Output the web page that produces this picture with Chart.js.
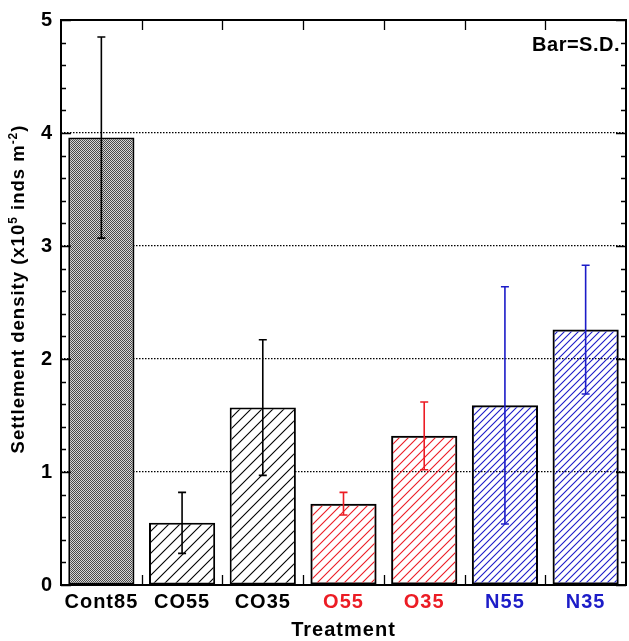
<!DOCTYPE html>
<html>
<head>
<meta charset="utf-8">
<script src="https://cdn.jsdelivr.net/npm/chart.js@4/dist/chart.umd.min.js"></script>
<style>
  html, body { margin: 0; padding: 0; background: #fff; }
  #wrap { width: 629px; height: 641px; }
</style>
</head>
<body>
<div id="wrap"><canvas id="grafica" width="629" height="641"></canvas></div>
<script>
// datos
var categorias = ['Cont85', 'CO55', 'CO35', 'O55', 'O35', 'N55', 'N35'];
var medias = [3.96, 0.55, 1.57, 0.72, 1.32, 1.59, 2.26];
var desvios = [0.89, 0.27, 0.60, 0.10, 0.30, 1.05, 0.57];
var ticksY = [0, 1, 2, 3, 4, 5];

// estilos
var fuente = '"Liberation Sans", Arial, Helvetica, sans-serif';
var rojo = '#ec1c24';
var azul = '#1c1cc8';
var tintas = ['#000', '#000', '#000', rojo, rojo, azul, azul];

var canvas = document.getElementById('grafica');
var ctx = canvas.getContext('2d');

function rayado(color, paso, fondo) { //patron de lineas diagonales
    var c = document.createElement('canvas');
    c.width = paso; c.height = paso;
    var g = c.getContext('2d');
    if (fondo) {
        g.fillStyle = fondo;
        g.fillRect(0, 0, paso, paso);
    }
    g.strokeStyle = color;
    g.lineWidth = 1.1;
    g.beginPath();
    g.moveTo(0, paso); g.lineTo(paso, 0);
    g.moveTo(-2, 2); g.lineTo(2, -2);
    g.moveTo(paso - 2, paso + 2); g.lineTo(paso + 2, paso - 2);
    g.stroke();
    return ctx.createPattern(c, 'repeat');
}

function cuadriculado() { //patron gris fino
    var c = document.createElement('canvas');
    c.width = 2; c.height = 2;
    var g = c.getContext('2d');
    g.fillStyle = '#d6d6d6';
    g.fillRect(0, 0, 2, 2);
    g.fillStyle = '#484848';
    g.fillRect(0, 0, 1, 1);
    g.fillRect(1, 1, 1, 1);
    return ctx.createPattern(c, 'repeat');
}

var rellenos = [
    cuadriculado(),
    rayado('#000', 11, '#fff'), rayado('#000', 11, '#fff'),
    rayado(rojo, 9, null), rayado(rojo, 9, null),
    rayado(azul, 7, null), rayado(azul, 7, null)
];

var marco = { //marco, marcas de ejes, barras de error y textos
    id: 'marco',
    beforeDraw: function (chart) {
        chart.ctx.letterSpacing = '1px';
    },
    afterDatasetsDraw: function (chart) {
        var c = chart.ctx;
        var a = chart.chartArea;
        var ys = chart.scales.y;
        var meta = chart.getDatasetMeta(0);
        c.save();

        // barras de error
        c.lineWidth = 1.6;
        for (var i = 0; i < categorias.length; i++) {
            var x = meta.data[i].x;
            var y1 = ys.getPixelForValue(medias[i] + desvios[i]);
            var y2 = ys.getPixelForValue(medias[i] - desvios[i]);
            c.strokeStyle = tintas[i];
            c.beginPath();
            c.moveTo(x, y1); c.lineTo(x, y2);
            c.moveTo(x - 4, y1); c.lineTo(x + 4, y1);
            c.moveTo(x - 4, y2); c.lineTo(x + 4, y2);
            c.stroke();
        }

        // marcas del eje y (izquierda y derecha)
        c.strokeStyle = '#000';
        c.lineWidth = 1.3;
        c.beginPath();
        for (var k = 0; k <= 25; k++) {
            var v = k * 0.2;
            var py = Math.round(ys.getPixelForValue(v)) + 0.5;
            var largo = (k % 5 === 0) ? 10 : 5;
            c.moveTo(a.left, py); c.lineTo(a.left + largo, py);
            c.moveTo(a.right, py); c.lineTo(a.right - largo, py);
        }
        // marcas del eje x (abajo y arriba) entre categorias
        var paso = (a.right - a.left) / categorias.length;
        for (var j = 1; j < categorias.length; j++) {
            var px = Math.round(a.left + paso * j) + 0.5;
            c.moveTo(px, a.bottom); c.lineTo(px, a.bottom - 10);
            c.moveTo(px, a.top); c.lineTo(px, a.top + 10);
        }
        c.stroke();

        // recuadro
        c.lineWidth = 2;
        c.strokeRect(a.left, a.top, a.right - a.left, a.bottom - a.top);

        // leyenda de la barra de error
        c.fillStyle = '#000';
        c.font = 'bold 20px ' + fuente;
        c.letterSpacing = '0.5px';
        c.textAlign = 'right';
        c.textBaseline = 'alphabetic';
        c.fillText('Bar=S.D.', a.right - 6, 51);
        c.restore();
    },
    afterDraw: function (chart) { //titulo del eje y con superindices
        var c = chart.ctx;
        var partes = [
            ['Settlement density (x10', false],
            ['5', true],
            [' inds m', false],
            ['-2', true],
            [')', false]
        ];
        var grande = 'bold 18.5px ' + fuente;
        var chico = 'bold 12px ' + fuente;
        c.save();
        c.letterSpacing = '1px';
        var total = 0;
        partes.forEach(function (p) {
            c.font = p[1] ? chico : grande;
            total += c.measureText(p[0]).width;
        });
        c.translate(24, 289);
        c.rotate(-Math.PI / 2);
        c.fillStyle = '#000';
        c.textAlign = 'left';
        c.textBaseline = 'alphabetic';
        var x = -total / 2;
        partes.forEach(function (p) {
            c.font = p[1] ? chico : grande;
            c.fillText(p[0], x, p[1] ? -7 : 0);
            x += c.measureText(p[0]).width;
        });
        c.restore();
    }
};

var grafica = new Chart(canvas, {
    type: 'bar',
    data: {
        labels: categorias,
        datasets: [{
            label: 'Settlement density',
            data: medias,
            backgroundColor: rellenos,
            borderColor: '#000',
            borderWidth: 2,
            borderSkipped: false,
            barPercentage: 0.82,
            categoryPercentage: 1
        }]
    },
    options: {
        responsive: false,
        animation: false,
        layout: { padding: { top: 20, right: 3, left: 0, bottom: 0 } },
        plugins: {
            legend: { display: false },
            tooltip: { enabled: false }
        },
        scales: {
            x: {
                offset: true,
                grid: { display: false, drawTicks: false },
                border: { display: false },
                ticks: {
                    autoSkip: false,
                    maxRotation: 0,
                    padding: 5,
                    font: { family: fuente, size: 20, weight: 'bold' },
                    color: function (c) { return tintas[c.index]; }
                },
                title: {
                    display: true,
                    text: 'Treatment',
                    color: '#000',
                    padding: { top: 0, bottom: 1 },
                    font: { family: fuente, size: 20, weight: 'bold', lineHeight: 1 }
                },
                afterFit: function (s) { s.height = 56; }
            },
            y: {
                min: 0,
                max: 5,
                afterBuildTicks: function (s) {
                    s.ticks = ticksY.map(function (v) { return { value: v }; });
                },
                grid: {
                    drawTicks: false,
                    lineWidth: 1.2,
                    color: function (c) {
                        return (c.tick && (c.tick.value === 0 || c.tick.value === 5)) ? 'rgba(0,0,0,0)' : '#000';
                    }
                },
                border: { display: false, dash: [1.5, 1.5] },
                ticks: {
                    padding: 8,
                    color: '#000',
                    font: { family: fuente, size: 20, weight: 'bold' }
                },
                afterFit: function (s) { s.width = 61; }
            }
        }
    },
    plugins: [marco]
});
</script>
</body>
</html>
